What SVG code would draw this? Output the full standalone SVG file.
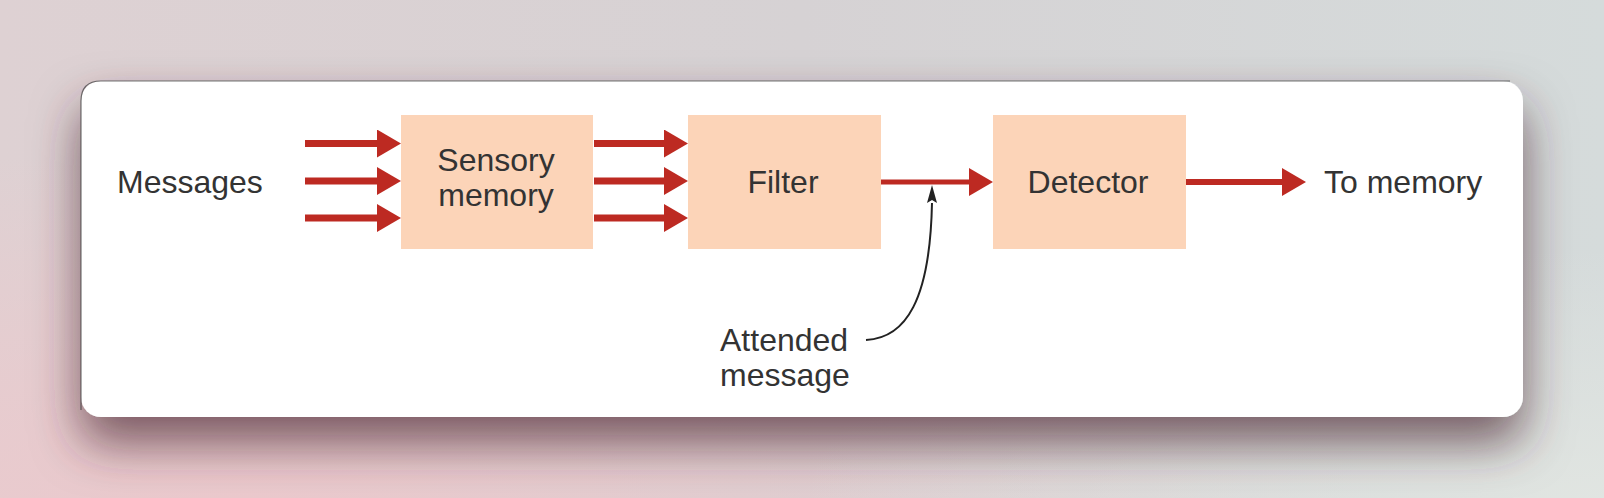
<svg xmlns="http://www.w3.org/2000/svg" width="1604" height="498" viewBox="0 0 1604 498">
  <defs>
    <linearGradient id="bg" x1="0" y1="0" x2="1" y2="0">
      <stop offset="0" stop-color="#ded1d3"/>
      <stop offset="0.5" stop-color="#d6d2d4"/>
      <stop offset="1" stop-color="#d5dbdb"/>
    </linearGradient>
    <radialGradient id="pink" cx="0.15" cy="1" r="0.7">
      <stop offset="0" stop-color="#edc8cc" stop-opacity="0.9"/>
      <stop offset="1" stop-color="#edc8cc" stop-opacity="0"/>
    </radialGradient>
    <radialGradient id="grey" cx="1" cy="1" r="0.5">
      <stop offset="0" stop-color="#e2e6e2" stop-opacity="0.9"/>
      <stop offset="1" stop-color="#e2e6e2" stop-opacity="0"/>
    </radialGradient>
    <filter id="shadow" x="-10%" y="-20%" width="120%" height="170%">
      <feDropShadow dx="0" dy="26" stdDeviation="24" flood-color="#4e2a30" flood-opacity="0.7"/>
    </filter>
    <marker id="red" viewBox="0 0 24 28" refX="2" refY="14" markerWidth="24" markerHeight="28" markerUnits="userSpaceOnUse" orient="auto">
      <path d="M0,0 L24,14 L0,28 z" fill="#bd2a22"/>
    </marker>
    <style>
      .box { fill: #fcd4b8; }
      .lbl { font-family: "Liberation Sans", Arial, sans-serif; font-size: 32px; fill: #333; }
      .mid { text-anchor: middle; }
      .arr { stroke: #bd2a22; stroke-width: 7; fill: none; marker-end: url(#red); }
    </style>
  </defs>

  <rect width="1604" height="498" fill="url(#bg)"/>
  <rect width="1604" height="498" fill="url(#pink)"/>
  <rect width="1604" height="498" fill="url(#grey)"/>

  <rect id="card" x="81" y="81" width="1442" height="336" rx="20" fill="#ffffff" filter="url(#shadow)"/>
  <path d="M81,410 L81,101 Q81,81 101,81 L1510,81" fill="none" stroke="#3a3a3a" stroke-width="1.2" stroke-opacity="0.7"/>

  <g id="messages">
    <text class="lbl" x="117" y="193">Messages</text>
  </g>

  <g id="sensory-memory">
    <rect class="box" x="401" y="115" width="192" height="134"/>
    <text class="lbl mid" x="496" y="171">Sensory</text>
    <text class="lbl mid" x="496" y="206">memory</text>
  </g>

  <g id="filter">
    <rect class="box" x="688" y="115" width="193" height="134"/>
    <text class="lbl mid" x="783" y="193">Filter</text>
  </g>

  <g id="detector">
    <rect class="box" x="993" y="115" width="193" height="134"/>
    <text class="lbl mid" x="1088" y="193">Detector</text>
  </g>

  <g id="to-memory">
    <text class="lbl" x="1324" y="193">To memory</text>
  </g>

  <g id="attended-message">
    <text class="lbl" x="720" y="351">Attended</text>
    <text class="lbl" x="720" y="386">message</text>
  </g>

  <g id="connectors">
    <line class="arr" x1="305" y1="143.5" x2="379" y2="143.5"/>
    <line class="arr" x1="305" y1="181" x2="379" y2="181"/>
    <line class="arr" x1="305" y1="218" x2="379" y2="218"/>
    <line class="arr" x1="594" y1="143.5" x2="666" y2="143.5"/>
    <line class="arr" x1="594" y1="181" x2="666" y2="181"/>
    <line class="arr" x1="594" y1="218" x2="666" y2="218"/>
    <line class="arr" x1="881" y1="182" x2="971" y2="182" style="stroke-width:5"/>
    <line class="arr" x1="1186" y1="182" x2="1284" y2="182" style="stroke-width:6"/>
    <path d="M866,340 C906,338 930,300 932,203" fill="none" stroke="#222" stroke-width="2"/>
    <path d="M932,185 L937,203 L932,200 L927,203 z" fill="#222"/>
  </g>
</svg>
